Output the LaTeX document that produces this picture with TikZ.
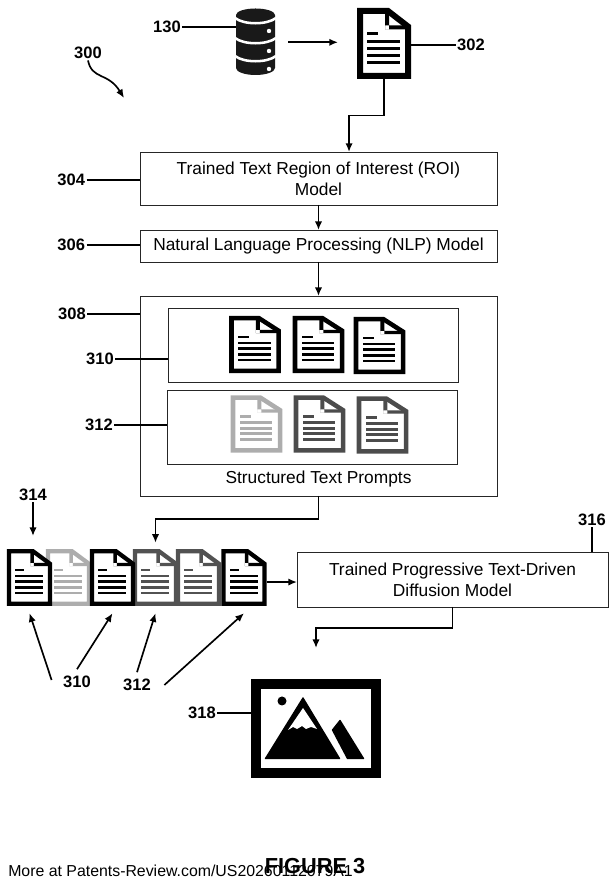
\documentclass[tikz,border=0pt]{standalone}
\usepackage{fontspec}
\setmainfont{Liberation Sans}
\usetikzlibrary{positioning, arrows.meta, calc}

\tikzset{
	docicon/.pic={
		\node[minimum width=40.5pt, minimum height=53.25pt, inner sep=0pt, outer sep=0pt, transform shape] (-box) at (0,0) {};
		\draw[fill=white, draw=#1, pic actions, miter limit=2] (-24,-32.5) -- (24,-32.5) -- (24,17) -- (4,32.5) -- (-24,32.5) -- cycle;
		\fill[#1] (1,32) rectangle (5,14) (1,14) rectangle (24,18);
		\fill[#1] (-17,8) rectangle (-6,11);
		\foreach \yline in {1.8,-5.2,-12.2,-19.2}
			\fill[#1] (-17,\yline-1.7) rectangle (16,\yline+1.7);
	},
	bigdoc/.style={line width=4.5pt},
	middoc/.style={xscale=.98, yscale=.81, line width=3.4pt},
	rowdoc/.style={xscale=.85, yscale=.81, line width=3.2pt}
}

\begin{document}
\begin{tikzpicture}[
		x=.75pt, y=.75pt,
		block/.style={draw=black!85, line width=.7pt, rectangle, align=center, inner sep=0pt, outer sep=0pt, font=\fontsize{13pt}{16pt}\selectfont},
		lbl/.style={inner sep=1pt, font=\fontsize{12.4pt}{14pt}\selectfont\bfseries},
		wire/.style={line width=1.25pt},
		>={Latex[length=6.5pt,width=5.5pt]}]
		\useasboundingbox (0,0) rectangle (616,888);

		% blocks
		\node (roi) [block, minimum width=267.75pt, minimum height=39.75pt] at (318.5,709.5) {Trained Text Region of Interest (ROI)\\Model};
		\node (nlp) [block, minimum width=267.75pt, minimum height=24pt, below=18.75pt of roi] {Natural Language Processing (NLP) Model};
		\node (prompts) [block, minimum width=267.75pt, minimum height=150pt, below=25.5pt of nlp] {};
		\node (group310) [block, minimum width=217.5pt, minimum height=55.5pt] at (313,543) {};
		\node (group312) [block, minimum width=217.5pt, minimum height=55.5pt] at (312,461) {};
		\node (promptsText) [block, draw=none] at (318.5,408.5) {Structured Text Prompts};
		\node (diff) [block, minimum width=233.25pt, minimum height=41.25pt] at (452.5,308.5) {Trained Progressive Text-Driven\\Diffusion Model};

		% database
		\node (db) [minimum width=29.25pt, minimum height=49.5pt, inner sep=0pt, outer sep=0pt] at (255.5,845.7) {};
		\fill[black!90] (236,873) rectangle (275,820) (255.5,873) ellipse (19.5 and 6.5) (255.5,820) ellipse (19.5 and 7);
		\foreach \ytier in {870,850,832} {
			\draw[white, line width=1.9pt] (235,\ytier) .. controls (244,\ytier-7) and (267,\ytier-7) .. (276,\ytier);
			\fill[white] (269,\ytier-13) circle (2.2);
		}

		% documents
		\pic[bigdoc] (doc302) at (384,844.5) {docicon=black};
		\pic[middoc] (a1) at (255,543.5) {docicon=black};
		\pic[middoc] (a2) at (318.5,543.5) {docicon=black};
		\pic[middoc] (a3) at (379.5,542.5) {docicon=black};
		\pic[middoc] (b1) at (256.5,464) {docicon=black!32};
		\pic[middoc] (b2) at (319.5,464) {docicon=black!70};
		\pic[middoc] (b3) at (382.5,463) {docicon=black!70};
		\pic[rowdoc] (d2) at (68.5,310.5) {docicon=black!32};
		\pic[rowdoc] (d4) at (155.5,310.5) {docicon=black!68};
		\pic[rowdoc] (d5) at (198.5,310.5) {docicon=black!68};
		\pic[rowdoc] (d1) at (29.5,310.5) {docicon=black};
		\pic[rowdoc] (d3) at (112.5,310.5) {docicon=black};
		\pic[rowdoc] (d6) at (244,310.5) {docicon=black};

		% image
		\node (img) [draw, line width=7.5pt, minimum width=90pt, minimum height=67.1pt, inner sep=0pt, outer sep=3.75pt] at (316,159.25) {};
		\fill (282,187) circle (4.5);
		\fill[draw, line width=1pt, line join=round] (303,190) -- (265.5,129.5) -- (339.5,129.5) -- cycle;
		\fill[white] (303,180) -- (288,158) -- (293,161) -- (297,159) -- (302,162) -- (306,159) -- (311,161) -- (317,159) -- cycle;
		\fill[draw, line width=1pt, line join=round] (340,167.5) -- (332.5,158) -- (347.5,129.5) -- (363.5,129.5) -- cycle;

		% labels
		\node (lbl130) [lbl] at (167,861) {130};
		\node (lbl302) [lbl] at (471,843) {302};
		\node (lbl300) [lbl] at (88,835) {300};
		\node (lbl304) [lbl, left=40pt of roi, yshift=-1pt] {304};
		\node (lbl306) [lbl, left=40pt of nlp, yshift=.75pt] {306};
		\node (lbl308) [lbl] at (72,574) {308};
		\node (lbl310) [lbl] at (100,529) {310};
		\node (lbl312) [lbl] at (99,463) {312};
		\node (lbl314) [lbl] at (33,393) {314};
		\node (lbl316) [lbl] at (592,368) {316};
		\node (lblA) [lbl] at (77,206) {310};
		\node (lblB) [lbl] at (137,203) {312};
		\node (lbl318) [lbl] at (202,175) {318};
		\node (more) [inner sep=0pt, anchor=west, font=\fontsize{11.9pt}{14pt}\selectfont] at (8,17) {More at Patents-Review.com/US20260112079A1};
		\node (fig) [inner sep=0pt, font=\fontsize{16.3pt}{18pt}\selectfont\bfseries] at (315,22) {FIGURE 3};

		\coordinate (tip300) at (124,790);
		\coordinate (tip314) at (33,352);

		% connections
		\draw[wire, ->] ([xshift=9.75pt]db.east) -- ([xshift=-14.25pt]db.east -| doc302-box.west);
		\draw[wire, ->] (doc302-box.south) -- ++(0,-36.5) -| ([xshift=22.9pt]roi.north);
		\draw[wire, ->] (roi) -- (nlp);
		\draw[wire, ->] (nlp) -- (prompts);
		\draw[wire, ->] (prompts.south) -- ++(0,-23) -| ([yshift=4.5pt]d4-box.north);
		\draw[wire, ->] ([yshift=-3.4pt]d6-box.east) -- ([yshift=-3.4pt]d6-box.east -| diff.west);
		\draw[wire, ->] (diff.south) -- ++(0,-21) -| ([yshift=23.25pt]img.north);
		\draw[wire, ->] (lbl314) -- (tip314);
		\draw[wire, ->] (lbl300.south) .. controls (92,808) and (108,816) .. (tip300);

		\draw[wire] (lbl130) -- (lbl130 -| db.west);
		\draw[wire] (lbl302) -- (lbl302 -| doc302-box.east);
		\draw[wire] (lbl304) -- (lbl304 -| roi.west);
		\draw[wire] (lbl306) -- (lbl306 -| nlp.west);
		\draw[wire] (lbl308) -- (lbl308 -| prompts.west);
		\draw[wire] (lbl310) -- (lbl310 -| group310.west);
		\draw[wire] (lbl312) -- (lbl312 -| group312.west);
		\draw[wire] (lbl316) -- (lbl316 |- diff.north);
		\draw[wire] (lbl318) -- (lbl318 -| img.west);

		\draw[wire, ->] ([xshift=-7.5pt,yshift=1.5pt]lblA.west) -- ([yshift=-5.25pt]d1-box.south);
		\draw[wire, ->] ([yshift=4pt]lblA.north) -- ([yshift=-5.25pt]d3-box.south);
		\draw[wire, ->] ([yshift=4pt]lblB.north) -- ([yshift=-5.25pt]d4-box.south);
		\draw[wire, ->] ([xshift=9pt]lblB.east) -- ([yshift=-5.25pt]d6-box.south);
\end{tikzpicture}
\end{document}
